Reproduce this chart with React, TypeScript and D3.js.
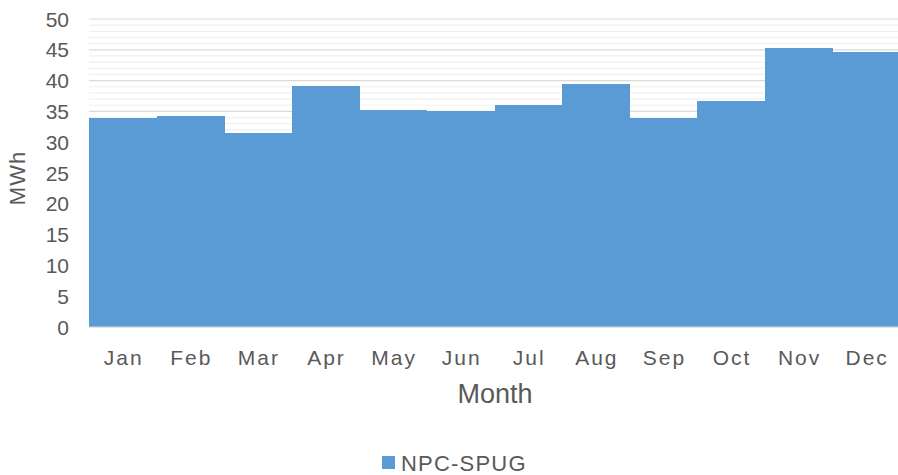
import React from "react";
import * as d3 from "d3";

const months = ["Jan","Feb","Mar","Apr","May","Jun","Jul","Aug","Sep","Oct","Nov","Dec"];
const values = [33.9, 34.25, 31.5, 39.1, 35.3, 35.0, 36.0, 39.4, 33.9, 36.7, 45.3, 44.6];
const yTicks = [0, 5, 10, 15, 20, 25, 30, 35, 40, 45, 50];
const seriesName = "NPC-SPUG";

const W = 898, H = 475;
const left = 89, right = 900, top = 19, bottom = 327;
const color = "#5b9bd5";
const textColor = "#595959";
const font = "'Liberation Sans', Arial, sans-serif";

export default function App() {
  const x = d3.scaleBand<string>().domain(months).range([left, right]).paddingInner(0).paddingOuter(0);
  const y = d3.scaleLinear().domain([0, 50]).range([bottom, top]);
  const minor = d3.range(0, 51, 1).filter((v) => v % 5 !== 0);

  return (
    <svg width={W} height={H} style={{ position: "absolute", left: 0, top: 0, background: "#fff" }} fontFamily={font}>
      {minor.map((v) => (
        <line key={"m" + v} x1={left} x2={W} y1={y(v)} y2={y(v)} stroke="#f0f0f0" strokeWidth={1.2} />
      ))}
      {yTicks.map((v) => (
        <line key={"g" + v} x1={left} x2={W} y1={y(v)} y2={y(v)} stroke="#d9d9d9" strokeWidth={1.2} />
      ))}
      <g shapeRendering="crispEdges">
        {months.map((m, i) => (
          <rect key={m} x={x(m)!} y={y(values[i])} width={x.bandwidth() + 0.5} height={y(0) - y(values[i])}
            fill={color} />
        ))}
      </g>
      <line x1={left} x2={W} y1={y(0)} y2={y(0)} stroke="#d9d9d9" strokeWidth={1.2} />
      {yTicks.map((v) => (
        <text key={"t" + v} x={69} y={y(v)} dy="0.36em" textAnchor="end" fontSize={21} fill={textColor}>{v}</text>
      ))}
      {months.map((m) => (
        <text key={"l" + m} x={x(m)! + x.bandwidth() / 2 + 1} y={365} textAnchor="middle" fontSize={21}
          letterSpacing={2} fill={textColor}>{m}</text>
      ))}
      <text transform={`translate(25,${(top + bottom) / 2 + 5}) rotate(-90)`} textAnchor="middle" fontSize={22}
        letterSpacing={1} fill={textColor}>MWh</text>
      <text x={495} y={403} textAnchor="middle" fontSize={27} fill={textColor}>Month</text>
      <rect x={382} y={456} width={13} height={13} fill={color} />
      <text x={401} y={471} fontSize={22} letterSpacing={1.2} fill={textColor}>{seriesName}</text>
    </svg>
  );
}
